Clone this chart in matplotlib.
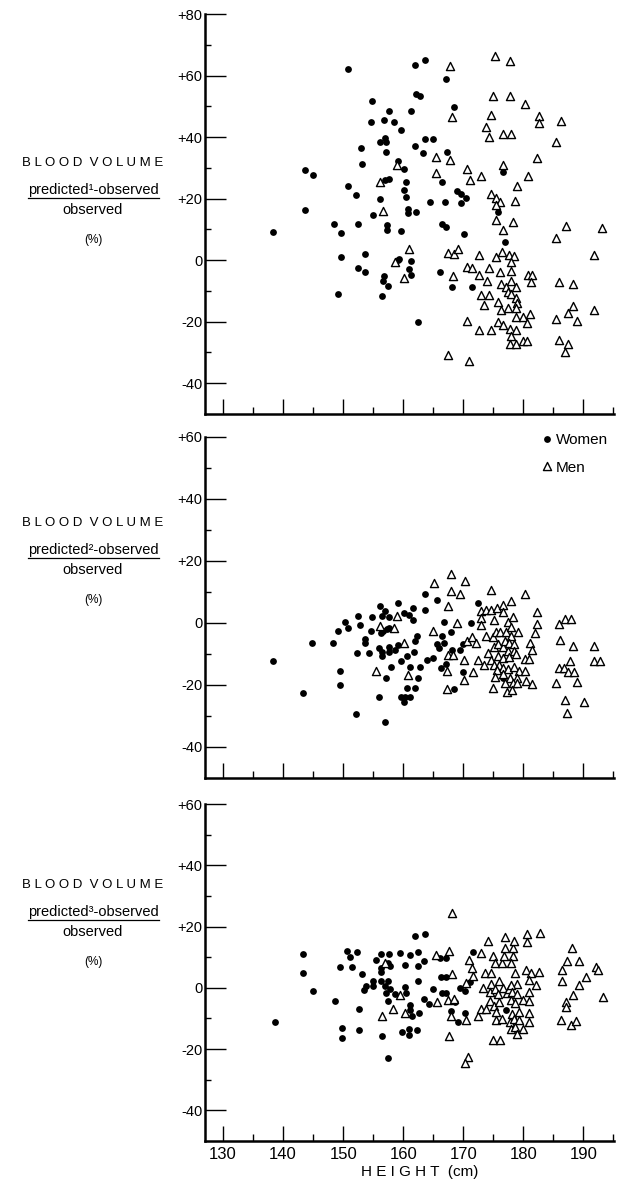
import numpy as np
import matplotlib
matplotlib.use("Agg")
import matplotlib.pyplot as plt
from matplotlib.lines import Line2D

plt.rcParams['font.family'] = ['Liberation Sans Narrow', 'Liberation Sans', 'DejaVu Sans']

# ---- panel 1: predicted(1) ----
w1_h = [138.4, 143.7, 144.9, 143.6, 150.8, 148.4, 149.6, 149.6, 149.2, 150.8,
        152.1, 152.4, 152.4, 152.9, 153.2, 153.7, 153.7, 154.8, 154.7, 154.9,
        156.1, 156.1, 156.9, 157.2, 156.8, 157.6, 158.5, 157.2, 156.9, 157.7,
        157.3, 157.3, 156.8, 156.6, 157.4, 156.5, 159.1, 159.6, 160.1, 160.1,
        160.5, 160.5, 160.8, 160.8, 159.7, 159.3, 159.1, 160.9, 161.3, 161.3,
        161.3, 162.0, 162.1, 162.8, 163.6, 162.0, 163.6, 164.9, 163.3, 162.1,
        162.4, 164.5, 166.5, 166.9, 166.5, 167.2, 166.1, 167.2, 168.4, 167.3,
        168.9, 169.7, 170.5, 169.7, 170.1, 168.2, 171.4, 176.6, 175.8, 176.9]
w1_v = [9.3, 29.3, 27.7, 16.4, 62.0, 11.7, 8.9, 1.0, -11.0, 24.2,
        21.2, 11.8, -2.7, 36.5, 31.3, 2.1, -3.8, 51.6, 45.0, 14.7,
        19.8, 38.4, 39.8, 38.3, 45.5, 48.5, 44.9, 35.0, 25.9, 26.5,
        11.5, 9.8, -5.2, -6.7, -8.4, -11.7, 32.1, 42.2, 29.7, 22.8,
        25.5, 20.5, 16.5, 15.2, 9.6, 0.5, 0.0, -3.0, -0.3, -4.9,
        48.5, 63.5, 54.1, 53.2, 65.2, 37.2, 39.3, 39.3, 34.8, 15.7,
        -20.1, 19.0, 25.4, 18.8, 11.8, 10.7, -3.7, 58.9, 49.7, 35.1,
        22.5, 21.4, 20.1, 18.7, 8.6, -8.7, -8.8, 28.5, 15.5, 6.0]
m1_h = [156.1, 156.6, 159.0, 158.6, 160.2, 161.0, 167.8, 168.2, 165.4, 165.4,
        167.8, 167.5, 168.4, 169.2, 168.3, 167.4, 170.7, 171.1, 173.0, 170.6,
        171.5, 172.7, 173.9, 174.3, 172.7, 173.0, 174.3, 173.4, 170.7, 172.7,
        174.6, 171.0, 175.3, 177.8, 175.0, 177.8, 180.2, 174.6, 173.8, 174.3,
        176.6, 177.9, 176.6, 182.6, 182.6, 186.2, 185.5, 182.2, 180.7, 179.0,
        174.6, 175.4, 176.2, 175.4, 178.6, 175.5, 178.3, 176.7, 187.1, 185.5,
        193.1, 191.8, 175.5, 176.4, 177.6, 178.4, 178.0, 176.2, 178.0, 176.3,
        177.9, 177.2, 178.7, 177.5, 178.0, 178.8, 179.0, 175.8, 176.3, 177.5,
        178.7, 178.7, 179.9, 181.1, 180.6, 175.8, 176.7, 177.8, 178.7, 177.9,
        177.8, 178.7, 179.9, 180.6, 180.7, 181.5, 181.2, 185.9, 188.3, 188.3,
        187.5, 185.4, 188.9, 191.8, 185.9, 187.4, 187.0]
m1_v = [25.3, 15.9, 31.0, -0.5, -5.8, 3.5, 63.0, 46.5, 33.5, 28.3,
        32.7, 2.2, 2.1, 3.6, -5.1, -30.9, 29.7, 26.2, 27.3, -2.1,
        -2.7, -4.7, -6.8, -2.6, 1.7, -11.3, -11.3, -14.6, -19.7, -22.8,
        -22.8, -32.7, 66.3, 64.8, 53.2, 53.5, 50.9, 47.1, 43.2, 39.9,
        41.1, 41.1, 30.9, 46.7, 44.7, 45.3, 38.5, 33.3, 27.3, 24.2,
        21.5, 20.2, 19.0, 17.8, 19.3, 13.0, 12.3, 9.9, 11.2, 7.1,
        10.3, 1.7, 1.1, 2.8, 1.6, 1.5, -0.5, -3.8, -3.5, -7.7,
        -6.7, -8.6, -8.7, -10.2, -11.1, -12.2, -13.9, -13.7, -16.3, -15.5,
        -15.7, -18.5, -18.5, -17.4, -20.4, -20.1, -21.2, -22.4, -22.8, -24.6,
        -27.4, -27.4, -26.4, -26.4, -4.7, -4.7, -7.1, -7.1, -7.7, -15.0,
        -17.3, -19.2, -19.8, -16.2, -25.9, -27.3, -29.8]

# ---- panel 2: predicted(2) ----
w2_h = [138.3, 143.4, 144.8, 148.3, 149.1, 149.5, 149.5, 150.3, 150.8, 152.4,
        152.8, 152.3, 152.2, 153.6, 153.6, 154.3, 154.7, 154.8, 156.1, 156.9,
        156.4, 157.6, 156.3, 156.6, 157.3, 157.7, 155.9, 156.4, 156.4, 157.6,
        157.6, 158.7, 159.2, 158.0, 157.1, 155.9, 157.0, 159.2, 160.1, 160.9,
        161.7, 161.7, 162.3, 162.0, 161.8, 160.7, 159.6, 161.1, 162.8, 162.4,
        160.7, 162.0, 159.6, 160.3, 161.1, 160.2, 163.6, 163.6, 165.7, 166.8,
        166.4, 165.6, 166.8, 168.0, 166.0, 164.9, 163.9, 167.1, 166.3, 168.1,
        168.4, 169.5, 169.9, 171.3, 170.0, 172.5, 176.7]
w2_v = [-12.4, -22.7, -6.4, -6.5, -2.5, -15.5, -19.9, 0.2, -1.6, 2.2,
        -0.6, -9.7, -29.3, -5.2, -6.6, -9.7, -2.7, 1.9, 5.5, 3.9,
        2.2, 1.9, -3.1, -2.5, -1.8, -1.5, -8.2, -9.3, -10.6, -7.9,
        -9.3, -8.8, -7.0, -14.1, -17.9, -23.8, -31.8, 6.4, 3.1, 2.6,
        4.8, 1.1, -4.2, -5.7, -9.5, -10.6, -12.4, -14.1, -14.1, -17.9,
        -21.1, -21.1, -23.8, -23.8, -23.8, -25.4, 9.3, 4.2, 7.4, 0.2,
        -4.1, -6.8, -6.6, -3.0, -8.2, -11.2, -12.0, -13.1, -14.4, -8.6,
        -21.4, -8.6, -6.8, 0.0, -15.7, 6.3, -17.7]
m2_h = [155.5, 156.1, 158.5, 159.0, 160.2, 160.8, 165.1, 164.9, 167.9, 167.9,
        167.5, 170.3, 169.5, 169.0, 167.5, 168.3, 167.3, 167.3, 170.1, 170.1,
        170.6, 171.4, 172.1, 171.7, 172.5, 173.4, 173.0, 173.8, 173.0, 173.0,
        174.6, 174.7, 175.6, 175.1, 176.6, 176.7, 177.9, 173.8, 174.9, 175.4,
        176.2, 177.1, 175.1, 175.8, 176.7, 177.4, 177.9, 178.3, 179.1, 177.9,
        176.9, 177.6, 178.4, 177.4, 178.4, 178.8, 174.1, 174.7, 175.8, 176.6,
        177.7, 175.2, 176.0, 176.7, 177.5, 178.5, 179.3, 180.2, 175.6, 175.3,
        176.6, 177.8, 178.9, 177.0, 178.2, 179.0, 175.0, 177.3, 178.1, 180.3,
        182.3, 182.3, 181.9, 181.1, 181.5, 180.2, 181.0, 180.5, 181.4, 186.0,
        186.9, 188.0, 186.1, 188.3, 187.8, 185.9, 186.7, 187.5, 188.4, 185.4,
        188.9, 186.9, 187.3, 190.1, 191.8, 191.7, 192.7]
m2_v = [-15.5, -1.0, -1.6, 2.2, -6.6, -16.8, 13.0, -2.7, 15.9, 10.4,
        5.6, 13.7, 9.3, 0.0, -10.4, -10.4, -15.5, -21.2, -12.0, -18.5,
        -5.7, -4.6, -6.6, -15.7, -11.8, -13.7, 3.8, 4.2, 1.7, -0.6,
        4.3, 10.5, 4.9, 1.1, 5.8, 3.4, 7.1, -4.2, -4.4, -2.8,
        -2.8, -2.8, -7.9, -6.8, -7.9, 0.4, -1.4, 1.8, -2.8, -4.1,
        -5.9, -6.6, -6.8, -9.0, -9.0, -10.1, -9.7, -11.9, -10.6, -11.4,
        -11.1, -13.6, -13.6, -14.4, -14.9, -14.2, -15.5, -15.5, -15.0, -17.3,
        -16.5, -17.6, -17.6, -19.4, -19.2, -19.2, -20.9, -22.4, -21.6, 9.4,
        3.7, -0.3, -3.2, -6.4, -8.8, -11.5, -11.5, -18.7, -19.8, -0.3,
        1.3, 1.2, -5.4, -7.5, -12.2, -14.4, -14.4, -15.7, -15.7, -19.2,
        -19.0, -24.9, -29.1, -25.4, -7.5, -12.2, -12.2]

# ---- panel 3: predicted(3) ----
w3_h = [138.6, 143.4, 143.4, 145.0, 148.6, 149.4, 149.8, 149.8, 150.7, 151.1,
        152.3, 151.5, 153.1, 152.7, 152.6, 153.4, 153.8, 155.0, 155.0, 155.5,
        156.3, 157.6, 156.3, 156.3, 157.5, 157.8, 156.3, 157.4, 156.9, 157.8,
        157.1, 157.5, 158.6, 160.3, 160.4, 156.5, 157.4, 159.5, 160.3, 161.2,
        162.4, 162.4, 162.0, 163.6, 163.5, 162.4, 161.1, 161.1, 161.5, 162.7,
        163.5, 164.3, 159.8, 161.0, 161.0, 162.3, 165.0, 166.2, 167.1, 166.3,
        167.1, 166.5, 167.1, 167.9, 168.7, 169.1, 169.5, 170.3, 170.3, 171.2,
        171.7, 177.1]
w3_v = [-11.1, 11.0, 4.8, -1.2, -4.3, 6.9, -13.1, -16.4, 11.9, 9.9,
        11.8, 6.9, 4.6, -6.8, -13.9, -0.8, 0.5, 2.3, 0.5, 9.0,
        11.0, 11.0, 6.6, 5.2, 8.0, 7.2, 2.2, 2.2, 0.7, -0.4,
        -1.6, -4.3, -2.1, 0.2, -1.6, -15.7, -23.0, 11.3, 7.4, 10.7,
        11.8, 7.1, 16.9, 17.6, 8.7, 2.3, -5.7, -7.3, -9.3, -8.1,
        -3.8, -5.2, -14.4, -13.6, -15.5, -13.7, -0.5, 9.6, 9.6, 3.6,
        3.6, -1.6, -1.6, -7.5, -4.6, -11.1, -0.2, -1.1, -8.2, 2.0,
        11.8, -7.3]
m3_h = [156.4, 157.0, 158.3, 159.5, 160.3, 165.4, 165.6, 167.7, 168.1, 167.5,
        168.0, 168.5, 167.6, 168.2, 170.4, 170.5, 170.9, 171.4, 171.7, 170.8,
        170.3, 172.5, 173.0, 173.3, 172.9, 173.8, 173.7, 174.6, 174.2, 174.9,
        174.6, 174.5, 174.4, 175.1, 175.3, 175.4, 175.4, 176.4, 175.0, 176.1,
        175.3, 176.4, 176.8, 177.0, 176.9, 176.0, 176.6, 175.8, 175.9, 177.3,
        177.7, 178.2, 178.2, 178.0, 178.5, 178.6, 178.9, 177.9, 178.1, 179.0,
        177.9, 178.6, 178.1, 179.3, 177.8, 178.5, 179.2, 177.9, 178.6, 178.9,
        179.9, 180.0, 180.6, 180.6, 182.7, 180.5, 181.3, 182.6, 181.0, 182.1,
        181.0, 181.0, 181.0, 181.0, 186.4, 186.4, 187.2, 188.1, 189.2, 190.4,
        189.2, 188.2, 187.1, 187.1, 186.3, 187.9, 188.7, 192.1, 192.5, 193.3]
m3_v = [-9.2, 8.2, -6.9, -2.5, -8.2, 10.8, -4.7, 12.1, 4.4, -4.0,
        -9.3, -3.7, -15.6, 24.5, 1.6, -10.4, 9.2, 6.6, 3.9, -22.6,
        -24.6, -9.2, 11.5, 0.0, -6.8, -6.8, 4.7, 4.7, 15.4, 10.5,
        1.2, -1.3, -4.3, -5.9, -0.5, -7.8, -10.6, -10.1, -16.9, -16.9,
        8.0, 8.0, 10.5, 16.7, 12.9, 2.3, -0.2, -2.1, -4.6, -1.6,
        -0.5, 12.9, 10.5, 8.0, 15.4, 4.9, 1.4, 0.8, -1.3, -1.9,
        -4.0, -5.1, -8.4, -7.9, -11.1, -10.1, -10.6, -13.3, -12.8, -15.0,
        -4.0, -13.4, 17.6, 14.9, 18.0, 5.8, 4.7, 5.2, 2.5, 0.9,
        -1.3, -4.3, -8.2, -11.1, 5.8, 2.3, 8.7, 13.1, 8.7, 3.6,
        0.8, -2.4, -4.5, -6.4, -10.4, -12.0, -10.9, 6.9, 5.7, -3.0]

panels = [
    (w1_h, w1_v, m1_h, m1_v, 80, '\u00b9'),
    (w2_h, w2_v, m2_h, m2_v, 60, '\u00b2'),
    (w3_h, w3_v, m3_h, m3_v, 60, '\u00b3'),
]

W, H = 619, 1182
fig = plt.figure(figsize=(W / 100, H / 100), dpi=100)

# pixel boxes (top, bottom) of each panel and y of the side label
boxes = [(14, 414), (437, 778), (804, 1141)]
label_y = [163, 523, 885]
left_px, right_px = 205, 614

def fy(py):
    return 1 - py / H

for i, (wh, wv, mh, mv, ytop, sup) in enumerate(panels):
    top, bot = boxes[i]
    ax = fig.add_axes([left_px / W, fy(bot), (right_px - left_px) / W, (bot - top) / H])
    ax.scatter(wh, wv, s=24, c='black', marker='o', linewidths=0, label='Women')
    ax.scatter(mh, mv, s=34, facecolors='white', edgecolors='black',
               marker='^', linewidths=1.0, label='Men')

    ax.set_xlim(127.0, 195.1)
    ax.set_ylim(-50, ytop)
    ax.spines['top'].set_visible(False)
    ax.spines['right'].set_visible(False)
    ax.spines['left'].set_linewidth(1.8)
    ax.spines['bottom'].set_linewidth(1.8)

    ax.set_xticks(np.arange(130, 191, 10))
    ax.set_xticks(np.arange(135, 196, 10), minor=True)
    yt = np.arange(-40, ytop + 1, 20)
    ax.set_yticks(yt)
    ax.set_yticklabels(['+%d' % v if v > 0 else '%d' % v for v in yt])
    ax.set_yticks(np.arange(-30, ytop, 20), minor=True)

    ax.tick_params(axis='y', which='major', direction='in', length=15, width=1.0,
                   pad=2, labelsize=10.5)
    ax.tick_params(axis='y', which='minor', direction='in', length=4, width=1.0)
    ax.tick_params(axis='x', which='major', direction='in', length=11, width=1.0,
                   pad=4, labelsize=12)
    ax.tick_params(axis='x', which='minor', direction='in', length=5, width=1.0)
    if i < 2:
        ax.set_xticklabels([])

    if i == 1:
        ax.legend(loc='upper left', bbox_to_anchor=(0.81, 1.03), frameon=False,
                  handlelength=0.6, handletextpad=0.3, labelspacing=0.9,
                  fontsize=11, borderaxespad=0, scatteryoffsets=[0.5])

    # side label
    cx = 93 / W
    by = label_y[i]
    fig.text(cx, fy(by), 'B L O O D  V O L U M E', ha='center', va='center', fontsize=9.5)
    fig.text(cx, fy(by + 27), 'predicted' + sup + '-observed', ha='center', va='center',
             fontsize=10.5)
    fig.add_artist(Line2D([28 / W, 159 / W], [fy(by + 35), fy(by + 35)],
                          color='black', linewidth=0.9))
    fig.text(cx, fy(by + 47), 'observed', ha='center', va='center', fontsize=10.5)
    fig.text(cx, fy(by + 77), '(%)', ha='center', va='center', fontsize=8.5)

fig.text(420 / W, fy(1172), 'H E I G H T  (cm)', ha='center', va='center', fontsize=11)

fig.savefig('out.png', dpi=100)
